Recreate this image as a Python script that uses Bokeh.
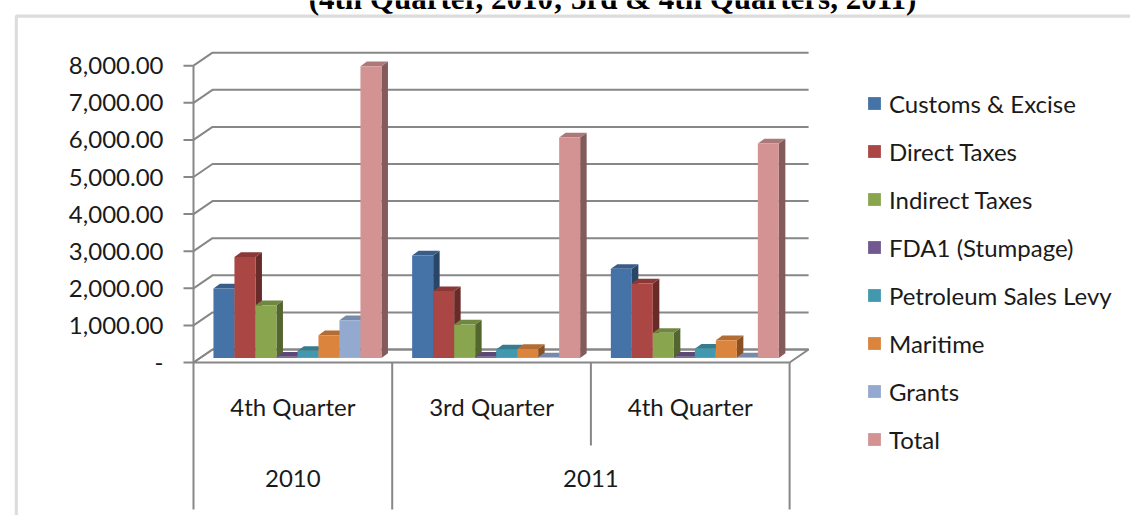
import numpy as np
from bokeh.plotting import figure
from bokeh.models import Range1d, Legend, LegendItem, BoxAnnotation, Label
from bokeh.core.properties import value
from bokeh.embed import file_html
from bokeh.resources import INLINE

# ---------------- data ----------------
years = ["2010", "2011", "2011"]
quarters = ["4th Quarter", "3rd Quarter", "4th Quarter"]
series_names = ["Customs & Excise", "Direct Taxes", "Indirect Taxes", "FDA1 (Stumpage)",
                "Petroleum Sales Levy", "Maritime", "Grants", "Total"]
customs_excise = [1870, 2760, 2400]
direct_taxes = [2720, 1800, 2005]
indirect_taxes = [1420, 900, 675]
fda1_stumpage = [30, 30, 30]
petroleum_levy = [190, 225, 250]
maritime = [610, 240, 475]
grants = [1015, 15, 10]
total = [7860, 5940, 5780]
y_ticks = [0, 1000, 2000, 3000, 4000, 5000, 6000, 7000, 8000]
y_tick_labels = ["-", "1,000.00", "2,000.00", "3,000.00", "4,000.00", "5,000.00",
                 "6,000.00", "7,000.00", "8,000.00"]
title_text = "(4th Quarter, 2010; 3rd & 4th Quarters, 2011)"

series_values = [customs_excise, direct_taxes, indirect_taxes, fda1_stumpage,
                 petroleum_levy, maritime, grants, total]
colors = ["#4572A7", "#AA4643", "#89A54E", "#71588F", "#4198AF", "#DB843D", "#93A9CF", "#D49393"]

# ---------------- layout constants (pixels) ----------------
W, H = 1130, 515
FRAME_LEFT = 14
AXIS_X = 193            # canvas px of the front value axis
CAT_PX = 198.7          # pixels per category
VAL_PX = 0.0371         # pixels per unit value
ZERO_Y = 362            # canvas px of the front zero line
GRID = "#878787"
TEXT = "#1a1a1a"
FONT = "Lato"
FS = "24px"


def px_x(px):
    return px / CAT_PX


def px_y(px):
    return px / VAL_PX


x_start = -px_x(AXIS_X - FRAME_LEFT)
x_end = px_x(W - AXIS_X)
y_top = px_y(ZERO_Y)
y_bot = -px_y(H - ZERO_Y)

DX, DY = px_x(19), px_y(13)              # floor / wall depth
BAR_DX, BAR_DY = px_x(6.5), px_y(4.7)    # bar depth
BAR_FRONT_DX, BAR_BASE = px_x(4.6), px_y(4.6)
n_series = len(series_names)
ncat = len(quarters)
group_w = px_x(168)
bar_w = group_w / n_series
y_quarter_lbl = -px_y(44)
y_year_lbl = -px_y(116)
y_sep_partial = -px_y(83)
y_sep_full = -px_y(147)


def shade(hex_color, f):
    h = hex_color.lstrip("#")
    r, g, b = (int(h[i:i + 2], 16) for i in (0, 2, 4))
    return "#%02x%02x%02x" % (int(r * f), int(g * f), int(b * f))


p = figure(width=W, height=H, output_backend="svg", toolbar_location=None,
           x_range=Range1d(x_start, x_end), y_range=Range1d(y_bot, y_top),
           x_axis_type=None, y_axis_type=None,
           min_border_left=FRAME_LEFT, min_border_right=0,
           min_border_top=0, min_border_bottom=0, outline_line_color=None,
           background_fill_color="white", border_fill_color="white")
p.grid.visible = False

# floor
p.patch([0, ncat, ncat + DX, DX], [0, 0, DY, DY], fill_color="white",
        line_color=GRID, line_width=2)
# back wall gridlines with side-wall diagonals
p.multi_line([[0, DX, ncat + DX] for _ in y_ticks],
             [[v, v + DY, v + DY] for v in y_ticks], line_color=GRID, line_width=2)

# value axis: tick marks and labels
p.segment(x0=[-px_x(10)] * len(y_ticks), y0=y_ticks, x1=[0] * len(y_ticks), y1=y_ticks,
          line_color=GRID, line_width=2)
p.text(x=[-px_x(30)] * len(y_ticks), y=y_ticks, text=y_tick_labels, text_align="right",
       text_baseline="middle", text_font=value(FONT), text_font_size=FS, text_color=TEXT)

# front axis line and category separators
x0s, y0s, x1s, y1s = [0], [y_ticks[-1]], [0], [y_sep_full]
for k in range(1, ncat + 1):
    full = (k == ncat) or (years[k] != years[k - 1])
    x0s.append(k); y0s.append(0); x1s.append(k)
    y1s.append(y_sep_full if full else y_sep_partial)
p.segment(x0s, y0s, x1s, y1s, line_color=GRID, line_width=2)

# 3D bars
cx = np.arange(ncat) + 0.5
items = []
for s, (name, vals, col) in enumerate(zip(series_names, series_values, colors)):
    vals = np.array(vals, dtype=float)
    left = cx - group_w / 2 + BAR_FRONT_DX + s * bar_w
    right = left + bar_w
    bottom = np.full(ncat, BAR_BASE)
    top = BAR_BASE + vals
    side_xs = [[r, r + BAR_DX, r + BAR_DX, r] for r in right]
    side_ys = [[b, b + BAR_DY, t + BAR_DY, t] for b, t in zip(bottom, top)]
    top_xs = [[l, r, r + BAR_DX, l + BAR_DX] for l, r in zip(left, right)]
    top_ys = [[t, t, t + BAR_DY, t + BAR_DY] for t in top]
    p.patches(side_xs, side_ys, fill_color=shade(col, 0.62), line_color=None)
    p.patches(top_xs, top_ys, fill_color=shade(col, 0.82), line_color=None)
    fr = p.quad(left=left, right=right, bottom=bottom, top=top, fill_color=col, line_color=None)
    items.append(LegendItem(label=name, renderers=[fr]))

# category labels
p.text(x=cx, y=[y_quarter_lbl] * ncat, text=quarters, text_align="center",
       text_baseline="middle", text_font=value(FONT), text_font_size=FS, text_color=TEXT)
uy = list(dict.fromkeys(years))
ycx = [np.mean([i for i, y in enumerate(years) if y == u]) + 0.5 for u in uy]
p.text(x=ycx, y=[y_year_lbl] * len(uy), text=uy, text_align="center",
       text_baseline="middle", text_font=value(FONT), text_font_size=FS, text_color=TEXT)

legend = Legend(items=items, location=(852, H - 454), glyph_width=16, glyph_height=16,
                label_height=30, spacing=18, padding=0, margin=0, label_standoff=7,
                border_line_color=None, background_fill_alpha=0,
                label_text_font=FONT, label_text_font_size=FS, label_text_color=TEXT)
p.add_layout(legend)

# chart box border and cut-off title
p.add_layout(BoxAnnotation(left=15.7, right=W + 60, top=15.7, bottom=H + 60,
                           left_units="canvas", right_units="canvas",
                           top_units="canvas", bottom_units="canvas",
                           fill_alpha=0, line_color="#8c8c8c", line_width=3.3))
p.add_layout(Label(x=612, y=-2, x_units="canvas", y_units="canvas", text=title_text,
                   text_align="center", text_baseline="alphabetic",
                   text_font="Liberation Serif", text_font_style="bold",
                   text_font_size="31px", text_color="black"))

open("out.html", "w").write(file_html(p, INLINE))
